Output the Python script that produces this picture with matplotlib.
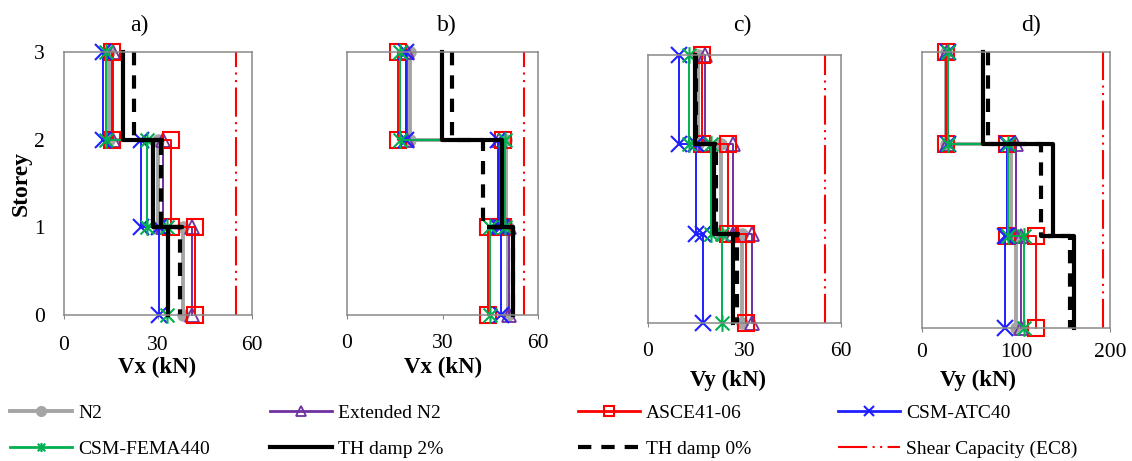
import numpy as np
from matplotlib import pyplot as plt
from matplotlib.lines import Line2D
from matplotlib.path import Path

plt.rcParams['font.family'] = ['Liberation Serif', 'DejaVu Serif']

# storey shears, listed bottom to top (storey 1, 2, 3), one row per panel a-d
n2 = [[38.0, 30.0, 14.3], [50.7, 50.0, 19.8], [29.3, 22.6, 15.4], [100, 95, 26]]
ext_n2 = [[40.8, 31.5, 15.7], [51.0, 47.8, 19.0], [32.2, 26.5, 17.7], [105, 100, 27]]
asce = [[41.8, 34.0, 15.3], [44.4, 49.0, 16.1], [30.6, 25.0, 16.7], [121, 90, 26]]
atc40 = [[30.4, 24.5, 12.3], [48.5, 47.5, 18.5], [17.2, 14.9, 9.7], [88, 90, 28]]
fema440 = [[32.8, 26.4, 13.3], [45.0, 49.6, 16.6], [22.9, 19.5, 12.7], [109, 92, 28]]
th0 = [[37.0, 31.0, 22.4], [52.0, 42.8, 32.9], [27.6, 21.1, 14.9], [157, 127, 70.6]]
# time history 2% envelope, traced point by point
th2_x = [[18.8, 18.8, 31.3, 28.4, 28.4, 37.7, 33.2, 33.2],
         [29.7, 29.7, 48.6, 48.6, 45.4, 52.0, 52.0],
         [14.6, 14.6, 20.8, 20.5, 20.5, 28.0, 26.4, 26.4],
         [65, 65, 139, 139, 134, 162, 162]]
th2_y = [[3, 2, 2, 2, 1, 1, 1, 0],
         [3, 2, 2, 1, 1, 1, 0],
         [3, 2, 2, 2, 1, 1, 1, 0],
         [3, 2, 2, 1, 1, 1, 0]]
capacity = [55.0, 55.6, 55.0, 193]

titles = ['a)', 'b)', 'c)', 'd)']
xlabels = ['Vx (kN)', 'Vx (kN)', 'Vy (kN)', 'Vy (kN)']
xticks = [[0, 30, 60], [0, 30, 60], [0, 30, 60], [0, 100, 200]]
storeys = [0, 1, 2, 3]

W, H = 1132, 461
FRAME = '#898989'
TH0_LS = (0, (3.2, 2.4))
CAP_LS = (0, (14, 2.6, 1, 2.6, 1, 2.6))

# excel style star: an x with a vertical stroke through it
STAR = Path([(-1, -1), (1, 1), (-1, 1), (1, -1), (0, -1.2), (0, 1.2)],
            [Path.MOVETO, Path.LINETO, Path.MOVETO, Path.LINETO, Path.MOVETO, Path.LINETO])


def step(v):
    '''storey shears (bottom to top) -> path from roof down to ground'''
    x = [v[2], v[2], v[1], v[1], v[0], v[0]]
    y = [3, 2, 2, 1, 1, 0]
    return x, y


def px_box(left, right, top, bottom):
    return [left / W, 1 - bottom / H, (right - left) / W, (bottom - top) / H]


styles = [
    dict(color='#A5A5A5', lw=2.8, marker='o', ms=8, mfc='#A5A5A5', mec='#A5A5A5'),
    dict(color='#7030A0', lw=1.4, marker='^', ms=9.5, mfc='none', mec='#7030A0', mew=1.3),
    dict(color='#FF0000', lw=1.4, marker='s', ms=11, mfc='none', mec='#FF0000', mew=1.5),
    dict(color='#1F1FFF', lw=1.4, marker='x', ms=11, mec='#1F1FFF', mew=1.5),
    dict(color='#00B050', lw=1.4, marker=STAR, ms=12, mfc='none', mec='#00B050', mew=1.5),
]
series = [n2, ext_n2, asce, atc40, fema440]

boxes = [px_box(64, 252, 52, 315), px_box(347, 538, 52, 315),
         px_box(648, 841, 55, 323), px_box(922, 1110, 52, 328)]
xlims = [(0, 60), (0, 60), (0, 60), (0, 200)]
tick_pads = [12, 11, 11, 8]
title_x = [139, 447, 742, 1031]
label_pos = [(157, 367), (443, 367), (728, 380), (978, 380)]


def main():
    fig = plt.figure(figsize=(W / 100, H / 100), dpi=100)
    for i in range(4):
        ax = fig.add_axes(boxes[i])
        for data, st in zip(series, styles):
            x, y = step(data[i])
            ax.plot(x, y, clip_on=False, **st)
        ax.plot(th2_x[i], th2_y[i], color='black', lw=3, clip_on=False)
        x, y = step(th0[i])
        ax.plot(x, y, color='black', lw=3, ls=TH0_LS, clip_on=False)
        ax.plot([capacity[i], capacity[i]], [0, 3], color='#FF0000', lw=1.5, ls=CAP_LS)

        ax.set_xlim(*xlims[i])
        ax.set_ylim(0, 3)
        ax.set_xticks(xticks[i])
        for s in ax.spines.values():
            s.set_color(FRAME)
            s.set_linewidth(1.1)
        ax.tick_params(axis='x', length=3, color=FRAME, labelsize=15.5, pad=tick_pads[i])
        if i == 0:
            ax.set_yticks(storeys)
            ax.tick_params(axis='y', length=0, labelsize=15.5, pad=14)
        else:
            ax.set_yticks([])
        fig.text(title_x[i] / W, 1 - 25 / H, titles[i], fontsize=17, ha='center', va='center')
        fig.text(label_pos[i][0] / W, 1 - label_pos[i][1] / H, xlabels[i], fontsize=16.5,
                 fontweight='bold', ha='center', va='center')

    fig.text(21 / W, 1 - 183 / H, 'Storey', fontsize=17, fontweight='bold', rotation=90,
             ha='center', va='center')

    # legend, four columns of two entries
    def h(st, ms):
        d = dict(st)
        d['ms'] = ms
        d['lw'] = 2 if d['lw'] < 2 else d['lw']
        return Line2D([], [], **d)
    handles = [h(styles[0], 7), h(styles[1], 6.5), h(styles[2], 6.5), h(styles[3], 6.5),
               h(styles[4], 6.5),
               Line2D([], [], color='black', lw=3),
               Line2D([], [], color='black', lw=3, ls=TH0_LS),
               Line2D([], [], color='#FF0000', lw=1.5, ls=CAP_LS)]
    names = ['N2', 'Extended N2', 'ASCE41-06', 'CSM-ATC40',
             'CSM-FEMA440', 'TH damp 2%', 'TH damp 0%', 'Shear Capacity (EC8)']
    col_x = [10, 270, 578, 838]
    for c in range(4):
        fig.legend([handles[c], handles[c + 4]], [names[c], names[c + 4]],
                   loc='center left', bbox_to_anchor=(col_x[c] / W, 1 - 431 / H),
                   frameon=False, fontsize=14, handlelength=3.2, handletextpad=0.3,
                   borderpad=0, borderaxespad=0, labelspacing=0.95)

    fig.savefig('out.png', dpi=100)


if __name__ == '__main__':
    main()
